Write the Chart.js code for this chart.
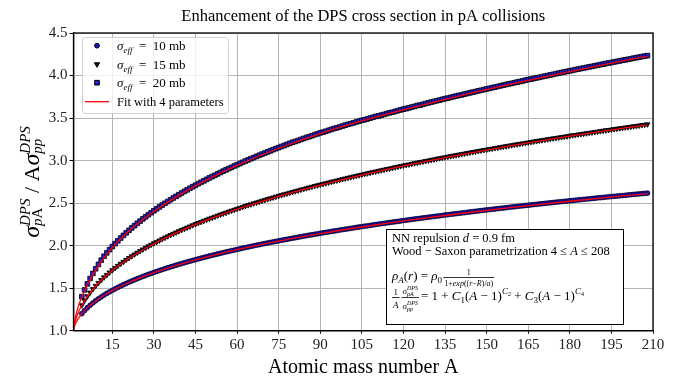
<!DOCTYPE html>
<html>
<head>
<meta charset="utf-8">
<script src="https://cdn.jsdelivr.net/npm/chart.js@4.4.1/dist/chart.umd.min.js"></script>
<style>
  html, body { margin: 0; padding: 0; background: #fff; }
  #wrap { width: 689px; height: 380px; }
</style>
</head>
<body>
<div id="wrap"><canvas id="dpsChart" width="689" height="380"></canvas></div>
<script>
// mass numbers of the computed nuclei
const massA = [4,5,6,7,8,9,10,11,12,13,14,15,16,17,18,19,20,21,22,23,24,25,26,27,28,29,30,31,32,33,34,35,36,37,38,39,40,
  41,42,43,44,45,46,47,48,49,50,51,52,53,54,55,56,57,58,59,60,61,62,63,64,65,66,67,68,69,70,71,72,73,74,75,76,77,78,79,80,
  81,82,83,84,85,86,87,88,89,90,91,92,93,94,95,96,97,98,99,100,101,102,103,104,105,106,107,108,109,110,111,112,113,114,115,
  116,117,118,119,120,121,122,123,124,125,126,127,128,129,130,131,132,133,134,135,136,137,138,139,140,141,142,143,144,145,
  146,147,148,149,150,151,152,153,154,155,156,157,158,159,160,161,162,163,164,165,166,167,168,169,170,171,172,173,174,175,
  176,177,178,179,180,181,182,183,184,185,186,187,188,189,190,191,192,193,194,195,196,197,198,199,200,201,202,203,204,205,
  206,207,208];

// enhancement factor, sigma_eff = 10 mb
const sigma10 = [1.200,1.237,1.270,1.299,1.326,1.352,1.375,1.397,1.418,1.438,
  1.456,1.475,1.492,1.509,1.525,1.540,1.555,1.570,1.584,1.598,
  1.611,1.624,1.637,1.649,1.662,1.673,1.685,1.696,1.708,1.718,
  1.729,1.740,1.750,1.760,1.770,1.780,1.789,1.799,1.808,1.817,
  1.826,1.835,1.844,1.853,1.861,1.870,1.878,1.886,1.894,1.902,
  1.910,1.918,1.926,1.933,1.941,1.948,1.955,1.963,1.970,1.977,
  1.984,1.991,1.998,2.005,2.011,2.018,2.025,2.031,2.038,2.044,
  2.050,2.057,2.063,2.069,2.075,2.081,2.087,2.093,2.099,2.105,
  2.111,2.117,2.123,2.128,2.134,2.139,2.145,2.151,2.156,2.161,
  2.167,2.172,2.177,2.183,2.188,2.193,2.198,2.203,2.208,2.214,
  2.219,2.224,2.229,2.233,2.238,2.243,2.248,2.253,2.258,2.262,
  2.267,2.272,2.276,2.281,2.285,2.290,2.295,2.299,2.304,2.308,
  2.313,2.317,2.321,2.326,2.330,2.334,2.339,2.343,2.347,2.351,
  2.355,2.360,2.364,2.368,2.372,2.376,2.380,2.384,2.388,2.392,
  2.396,2.400,2.404,2.408,2.412,2.416,2.420,2.424,2.427,2.431,
  2.435,2.439,2.442,2.446,2.450,2.454,2.457,2.461,2.465,2.468,
  2.472,2.475,2.479,2.483,2.486,2.490,2.493,2.497,2.500,2.504,
  2.507,2.511,2.514,2.518,2.521,2.524,2.528,2.531,2.534,2.538,
  2.541,2.544,2.548,2.551,2.554,2.557,2.561,2.564,2.567,2.570,
  2.574,2.577,2.580,2.583,2.586,2.589,2.592,2.596,2.599,2.602,
  2.605,2.608,2.611,2.614,2.617];

// sigma_eff = 15 mb
const sigma15 = [1.300,1.356,1.405,1.449,1.490,1.527,1.562,1.595,1.627,1.656,
  1.685,1.712,1.738,1.763,1.787,1.810,1.833,1.855,1.876,1.897,
  1.917,1.936,1.956,1.974,1.992,2.010,2.028,2.044,2.061,2.077,
  2.094,2.109,2.125,2.140,2.155,2.170,2.184,2.198,2.212,2.226,
  2.240,2.253,2.266,2.279,2.292,2.304,2.317,2.329,2.341,2.353,
  2.365,2.377,2.388,2.400,2.411,2.422,2.433,2.444,2.455,2.465,
  2.476,2.486,2.497,2.507,2.517,2.527,2.537,2.547,2.556,2.566,
  2.576,2.585,2.594,2.604,2.613,2.622,2.631,2.640,2.649,2.658,
  2.666,2.675,2.684,2.692,2.701,2.709,2.718,2.726,2.734,2.742,
  2.750,2.758,2.766,2.774,2.782,2.790,2.797,2.805,2.813,2.820,
  2.828,2.835,2.843,2.850,2.857,2.865,2.872,2.879,2.886,2.893,
  2.900,2.907,2.914,2.921,2.928,2.935,2.942,2.949,2.955,2.962,
  2.969,2.975,2.982,2.988,2.995,3.001,3.008,3.014,3.021,3.027,
  3.033,3.039,3.046,3.052,3.058,3.064,3.070,3.076,3.082,3.088,
  3.094,3.100,3.106,3.112,3.118,3.124,3.129,3.135,3.141,3.147,
  3.152,3.158,3.164,3.169,3.175,3.180,3.186,3.191,3.197,3.202,
  3.208,3.213,3.219,3.224,3.229,3.235,3.240,3.245,3.250,3.256,
  3.261,3.266,3.271,3.276,3.281,3.286,3.292,3.297,3.301,3.307,
  3.312,3.316,3.321,3.326,3.331,3.336,3.341,3.346,3.351,3.356,
  3.360,3.365,3.370,3.375,3.379,3.384,3.389,3.393,3.398,3.403,
  3.407,3.412,3.417,3.421,3.426];

// sigma_eff = 20 mb
const sigma20 = [1.400,1.479,1.550,1.614,1.673,1.728,1.780,1.829,1.875,1.915,
  1.953,1.989,2.024,2.057,2.089,2.120,2.151,2.180,2.208,2.235,
  2.262,2.288,2.314,2.339,2.363,2.387,2.410,2.433,2.455,2.477,
  2.498,2.519,2.540,2.560,2.580,2.599,2.619,2.638,2.656,2.675,
  2.693,2.710,2.728,2.745,2.762,2.779,2.796,2.812,2.828,2.844,
  2.860,2.876,2.891,2.906,2.921,2.936,2.951,2.965,2.980,2.994,
  3.008,3.022,3.035,3.049,3.063,3.076,3.089,3.102,3.115,3.128,
  3.141,3.153,3.166,3.178,3.190,3.203,3.215,3.225,3.236,3.248,
  3.260,3.271,3.281,3.292,3.304,3.315,3.326,3.334,3.345,3.356,
  3.366,3.377,3.385,3.395,3.406,3.416,3.426,3.434,3.444,3.454,
  3.464,3.474,3.480,3.490,3.500,3.509,3.519,3.525,3.534,3.543,
  3.553,3.562,3.568,3.578,3.587,3.596,3.605,3.611,3.620,3.629,
  3.638,3.647,3.653,3.662,3.671,3.679,3.688,3.695,3.703,3.711,
  3.720,3.728,3.734,3.743,3.751,3.759,3.767,3.773,3.781,3.789,
  3.797,3.805,3.812,3.820,3.827,3.835,3.843,3.849,3.857,3.864,
  3.872,3.879,3.887,3.894,3.902,3.908,3.915,3.923,3.930,3.937,
  3.945,3.952,3.958,3.965,3.972,3.979,3.986,3.993,4.000,4.007,
  4.014,4.021,4.028,4.035,4.042,4.049,4.055,4.062,4.069,4.075,
  4.082,4.089,4.095,4.102,4.108,4.115,4.121,4.128,4.134,4.141,
  4.147,4.153,4.160,4.166,4.172,4.179,4.185,4.191,4.197,4.204,
  4.210,4.216,4.222,4.228,4.234];

// 4-parameter fit curves
const fitA  = [1,1.25,1.5,2,3,4,6,8,10,13,16,20,25,30,40,50,60,75,90,105,120,140,160,180,200,208];
const fit10 = [1.000,1.039,1.063,1.100,1.156,1.198,1.268,1.324,1.373,1.435,1.489,1.552,1.621,1.682,1.786,1.874,1.952,2.053,2.141,2.219,2.290,2.375,2.452,2.522,2.587,2.612];
const fit15 = [1.000,1.058,1.094,1.150,1.234,1.295,1.400,1.484,1.557,1.651,1.733,1.828,1.931,2.022,2.179,2.312,2.428,2.580,2.712,2.830,2.937,3.065,3.181,3.287,3.384,3.421];
const fit20 = [1.000,1.078,1.126,1.200,1.312,1.394,1.537,1.656,1.762,1.897,2.011,2.143,2.281,2.402,2.611,2.788,2.943,3.145,3.318,3.466,3.597,3.759,3.907,4.047,4.177,4.226];

const xTicks = [15,30,45,60,75,90,105,120,135,150,165,180,195,210];
const sigmaLabels = ['10', '15', '20'];

const FF = '"Liberation Serif", "Times New Roman", serif';

function pts(xs, ys) {
  return xs.map((x, i) => ({x: x, y: ys[i]}));
}

// little rich text helper: plain runs, sub/superscripts and fractions
function R(t, fs) { return {t: t, fs: fs, it: false}; }
function I(t, fs) { return {t: t, fs: fs, it: true}; }
function rich(c, segs, x, y, draw) {
  let cx = x;
  for (const s of segs) {
    if (s.sup || s.sub) {
      let w = 0;
      if (s.sup) w = Math.max(w, rich(c, s.sup, cx, y - s.up, draw));
      if (s.sub) w = Math.max(w, rich(c, s.sub, cx, y + s.down, draw));
      cx += w;
    } else if (s.num) {
      const wn = rich(c, s.num, 0, 0, false);
      const wd = rich(c, s.den, 0, 0, false);
      const w = Math.max(wn, wd) + 2;
      if (draw) {
        rich(c, s.num, cx + (w - wn) / 2, y - s.up, true);
        rich(c, s.den, cx + (w - wd) / 2, y + s.down, true);
        c.fillRect(cx, y - s.bar, w, 0.8);
      }
      cx += w + 2;
    } else {
      c.font = (s.it ? 'italic ' : '') + s.fs + 'px ' + FF;
      if (draw) c.fillText(s.t, cx, y);
      cx += c.measureText(s.t).width;
    }
  }
  return cx - x;
}

const markerStyles = [
  {pointStyle: 'circle', radius: 2.4, rotation: 0, bg: '#1414b4', border: '#00002a'},
  {pointStyle: 'triangle', radius: 3, rotation: 180, bg: '#0c0c30', border: '#000000'},
  {pointStyle: 'rect', radius: 3.3, rotation: 0, bg: '#1e1ed2', border: '#000000'}
];

const decorations = {
  id: 'decorations',
  afterDraw(chart) {
    const c = chart.ctx;
    const a = chart.chartArea;
    c.save();
    c.fillStyle = '#000';
    c.textBaseline = 'alphabetic';

    // frame
    c.strokeStyle = '#000';
    c.lineWidth = 1.3;
    c.strokeRect(a.left, a.top, a.right - a.left, a.bottom - a.top);

    // title
    c.textAlign = 'center';
    c.font = '16.5px ' + FF;
    c.fillText('Enhancement of the DPS cross section in pA collisions', (a.left + a.right) / 2, 21);

    // x axis title
    c.font = '20px ' + FF;
    c.fillText('Atomic mass number A', (a.left + a.right) / 2, 373);
    c.textAlign = 'left';

    // y axis title
    const yTitle = [I('σ', 24), {sup: [I('DPS', 15)], sub: [I('p', 15), R('A', 15)], up: 9, down: 3},
      R(' / A', 22), I('σ', 24), {sup: [I('DPS', 15)], sub: [I('pp', 15)], up: 9, down: 3}];
    c.save();
    c.translate(39, 182);
    c.rotate(-Math.PI / 2);
    const yw = rich(c, yTitle, 0, 0, false);
    rich(c, yTitle, -yw / 2, 0, true);
    c.restore();

    // legend
    const lx = 82, ly = 37, lw = 146, lh = 76;
    c.fillStyle = 'rgba(255,255,255,0.8)';
    c.strokeStyle = '#d0d0d0';
    c.lineWidth = 1;
    c.beginPath();
    c.roundRect(lx + 0.5, ly + 0.5, lw, lh, 3);
    c.fill();
    c.stroke();
    const rowY = [45.7, 64.3, 82.7, 101.7];
    sigmaLabels.forEach((lab, i) => {
      const m = markerStyles[i];
      c.fillStyle = m.bg;
      c.strokeStyle = m.border;
      Chart.helpers.drawPoint(c, {pointStyle: m.pointStyle, radius: m.radius, rotation: m.rotation, borderWidth: 0.8}, 97, rowY[i]);
      c.fillStyle = '#000';
      rich(c, [I('σ', 13), {sub: [I('eff', 9)], down: 3}, R('  =  ' + lab + ' mb', 13)], 117, rowY[i] + 4.5, true);
    });
    c.strokeStyle = '#ff0000';
    c.lineWidth = 1.3;
    c.beginPath();
    c.moveTo(85, rowY[3]);
    c.lineTo(109, rowY[3]);
    c.stroke();
    c.fillStyle = '#000';
    rich(c, [R('Fit with 4 parameters', 12.5)], 117, rowY[3] + 4.5, true);

    // info box
    c.fillStyle = '#fff';
    c.fillRect(386, 229, 237, 95);
    c.strokeStyle = '#000';
    c.lineWidth = 1;
    c.strokeRect(386.5, 229.5, 237, 95);
    c.fillStyle = '#000';
    const fs = 12.5;
    rich(c, [R('NN repulsion ', fs), I('d', fs), R(' = 0.9 fm', fs)], 392, 242, true);
    rich(c, [R('Wood − Saxon parametrization 4 ≤ ', fs), I('A', fs), R(' ≤ 208', fs)], 392, 255, true);
    rich(c, [I('ρ', 13), {sub: [I('A', 9)], down: 3}, R('(', 13), I('r', 13), R(') = ', 13), I('ρ', 13),
      {sub: [R('0', 9)], down: 3}, R(' ', 5),
      {num: [R('1', 8)], den: [R('1+', 8), I('exp', 8), R('((', 8), I('r', 8), R('−', 8), I('R', 8), R(')/', 8), I('a', 8), R(')', 8)],
       up: 5, down: 6, bar: 3}], 392, 280, true);
    rich(c, [{num: [R('1', 9)], den: [I('A', 9)], up: 5, down: 8, bar: 3},
      {num: [I('σ', 9), {sup: [I('DPS', 6)], sub: [I('pA', 6)], up: 4, down: 2}],
       den: [I('σ', 9), {sup: [I('DPS', 6)], sub: [I('pp', 6)], up: 4, down: 2}], up: 6, down: 9, bar: 3},
      R('= 1 + ', 13), I('C', 13), {sub: [R('1', 9)], down: 3}, R('(', 13), I('A', 13), R(' − 1)', 13),
      {sup: [I('C', 9), {sub: [R('2', 6)], down: 2}], up: 6},
      R(' + ', 13), I('C', 13), {sub: [R('3', 9)], down: 3}, R('(', 13), I('A', 13), R(' − 1)', 13),
      {sup: [I('C', 9), {sub: [R('4', 6)], down: 2}], up: 6}], 392, 300, true);

    c.restore();
  }
};

function markerSet(values, i) {
  const m = markerStyles[i];
  return {
    data: pts(massA, values),
    showLine: false,
    pointStyle: m.pointStyle,
    pointRadius: m.radius,
    pointRotation: m.rotation,
    pointBackgroundColor: m.bg,
    pointBorderColor: m.border,
    pointBorderWidth: 0.8,
    order: 1
  };
}

function fitSet(values) {
  return {
    data: pts(fitA, values),
    showLine: true,
    borderColor: '#ff0000',
    borderWidth: 1.3,
    pointRadius: 0,
    cubicInterpolationMode: 'monotone',
    order: 0
  };
}

new Chart(document.getElementById('dpsChart'), {
  type: 'scatter',
  data: {
    datasets: [
      fitSet(fit10), fitSet(fit15), fitSet(fit20),
      markerSet(sigma10, 0), markerSet(sigma15, 1), markerSet(sigma20, 2)
    ]
  },
  options: {
    responsive: false,
    animation: false,
    events: [],
    layout: {padding: {top: 33, right: 36, left: 0, bottom: 0}},
    plugins: {legend: {display: false}, tooltip: {enabled: false}},
    scales: {
      x: {
        type: 'linear',
        min: 1,
        max: 210,
        afterBuildTicks: s => { s.ticks = xTicks.map(v => ({value: v})); },
        afterFit: s => { s.height = 49.3; },
        grid: {color: '#b4b4b4', lineWidth: 1, tickLength: 3, tickColor: '#000'},
        border: {color: '#000', width: 1.3},
        ticks: {color: '#222', font: {family: FF, size: 15}, padding: 2, maxRotation: 0, autoSkip: false}
      },
      y: {
        min: 1,
        max: 4.5,
        afterFit: s => { s.width = 73.5; },
        grid: {color: '#b4b4b4', lineWidth: 1, tickLength: 4, tickColor: '#000'},
        border: {color: '#000', width: 1.3},
        ticks: {stepSize: 0.5, color: '#222', font: {family: FF, size: 15}, padding: 2,
          callback: v => v.toFixed(1)}
      }
    }
  },
  plugins: [decorations]
});
</script>
</body>
</html>
